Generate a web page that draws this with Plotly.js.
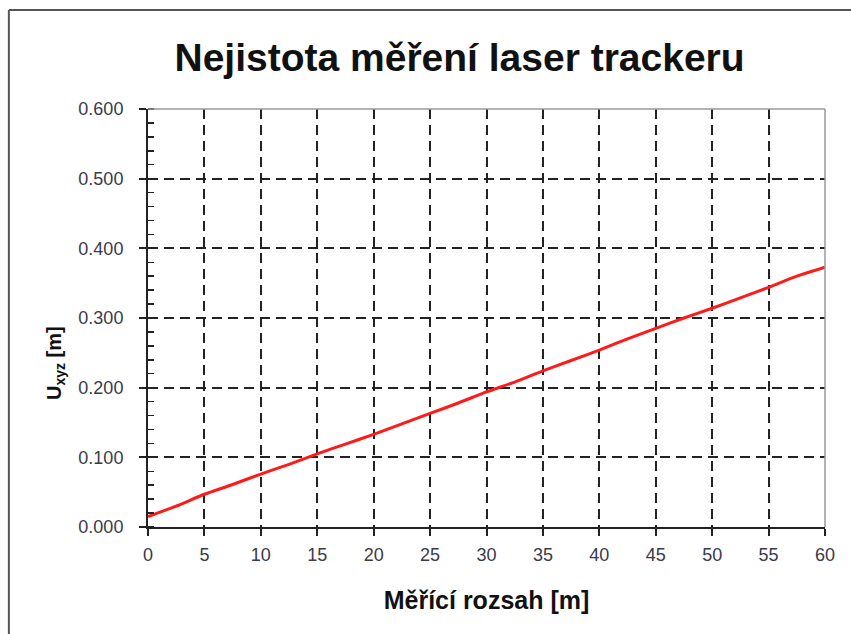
<!DOCTYPE html>
<html>
<head>
<meta charset="utf-8">
<script src="https://cdn.plot.ly/plotly-3.0.1.min.js"></script>
<style>html,body{margin:0;padding:0;background:#fff;}#chart{width:851px;height:634px;}</style>
</head>
<body>
<div id="chart"></div>
<script>
const rangeM = [0, 2.5, 5, 7.5, 10, 12.5, 15, 17.5, 20, 22.5, 25, 27.5, 30, 32.5, 35, 37.5, 40, 42.5, 45, 47.5, 50, 52.5, 55, 57.5, 60];
const uncertainty = [0.015, 0.030, 0.047, 0.061, 0.076, 0.090, 0.105, 0.119, 0.133, 0.148, 0.163, 0.178, 0.194, 0.208, 0.224, 0.239, 0.254, 0.270, 0.285, 0.300, 0.314, 0.329, 0.344, 0.360, 0.373];
const xTicks = [0, 5, 10, 15, 20, 25, 30, 35, 40, 45, 50, 55, 60];
const yTicks = [0, 0.1, 0.2, 0.3, 0.4, 0.5, 0.6];
const yTickLabels = ["0.000", "0.100", "0.200", "0.300", "0.400", "0.500", "0.600"];

const trace = {
  x: rangeM, y: uncertainty, type: 'scatter', mode: 'lines',
  line: {color: '#ff1a1a', width: 3, shape: 'spline', smoothing: 0.6},
  hoverinfo: 'skip'
};

const fam = 'Liberation Sans, Arial, sans-serif';
const tickFont = {family: fam, size: 18, color: '#3a3a4a'};

const layout = {
  width: 851, height: 634,
  margin: {l: 148, r: 26, t: 109, b: 107},
  paper_bgcolor: '#fff', plot_bgcolor: '#fff',
  showlegend: false,
  title: {
    text: '<b>Nejistota měření laser trackeru</b>',
    font: {family: fam, size: 39, color: '#111'},
    x: 0.54, xanchor: 'center', y: 0.91, yanchor: 'middle'
  },
  xaxis: {
    range: [0, 60], tickvals: xTicks, ticktext: xTicks.map(String),
    showline: true, linecolor: '#222', linewidth: 2,
    ticks: 'outside', ticklen: 7, tickwidth: 2, tickcolor: '#222',
    showgrid: true, gridcolor: '#222', gridwidth: 2, griddash: '10px,6px',
    zeroline: false, tickfont: tickFont, ticklabelstandoff: 3,
    title: {text: '<b>Měřící rozsah [m]</b>', font: {family: fam, size: 25, color: '#111'}, standoff: 28}
  },
  yaxis: {
    range: [0, 0.6], tickvals: yTicks, ticktext: yTickLabels,
    showline: true, linecolor: '#222', linewidth: 2,
    ticks: 'outside', ticklen: 7, tickwidth: 2, tickcolor: '#222',
    minor: {dtick: 0.02, ticks: 'inside', ticklen: 6, tickwidth: 1.5, tickcolor: '#222', showgrid: false},
    showgrid: true, gridcolor: '#222', gridwidth: 2, griddash: '10px,6px',
    zeroline: false, tickfont: tickFont, ticklabelstandoff: 12
  },
  annotations: [
    {text: '<b>U<sub>xyz</sub> [m]</b>', textangle: -90, showarrow: false,
     xref: 'paper', yref: 'paper', x: (55 - 148) / 677, y: (527 - 363) / 418,
     xanchor: 'center', yanchor: 'middle',
     font: {family: fam, size: 20, color: '#111'}}
  ],
  shapes: [
    {type: 'line', xref: 'paper', yref: 'paper', x0: 1, x1: 1, y0: 0, y1: 1, line: {color: '#999', width: 1.5}, layer: 'above'},
    {type: 'line', xref: 'paper', yref: 'paper', x0: 0, x1: 1, y0: 1, y1: 1, line: {color: '#999', width: 1.5}, layer: 'above'},
    {type: 'line', xref: 'paper', yref: 'paper', x0: -0.2055, x1: -0.2055, y0: -0.3, y1: 1.2368, line: {color: '#555', width: 2}},
    {type: 'line', xref: 'paper', yref: 'paper', x0: -0.2055, x1: 1.1, y0: 1.2368, y1: 1.2368, line: {color: '#555', width: 2}}
  ]
};

Plotly.newPlot('chart', [trace], layout, {displayModeBar: false, staticPlot: true});
</script>
</body>
</html>
